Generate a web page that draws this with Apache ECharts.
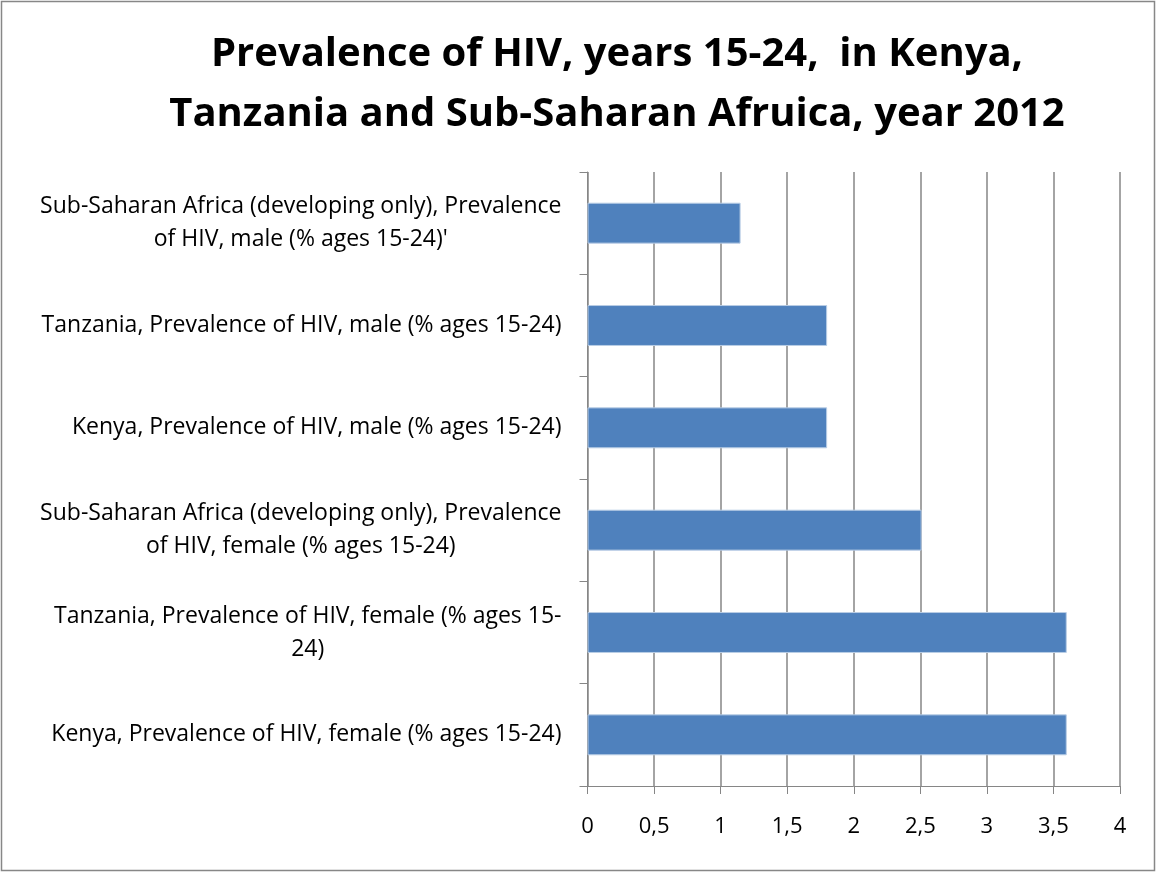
<!DOCTYPE html>
<html><head><meta charset="utf-8">
<script src="https://cdn.jsdelivr.net/npm/echarts@6/dist/echarts.min.js"></script>
<style>html,body{margin:0;padding:0;background:#fff}#c{width:1157px;height:873px}</style>
</head><body><div id="c"></div>
<script>
const categories = [
  "Kenya, Prevalence of HIV, female (% ages 15-24)",
  "Tanzania, Prevalence of HIV, female (% ages 15-\n24)",
  "Sub-Saharan Africa (developing only), Prevalence\nof HIV, female (% ages 15-24)",
  "Kenya, Prevalence of HIV, male (% ages 15-24)",
  "Tanzania, Prevalence of HIV, male (% ages 15-24)",
  "Sub-Saharan Africa (developing only), Prevalence\nof HIV, male (% ages 15-24)'"
];
const values = [3.6, 3.6, 2.51, 1.8, 1.8, 1.15];
const titleText = "Prevalence of HIV, years 15-24,  in Kenya,\nTanzania and Sub-Saharan Afruica, year 2012";

const chart = echarts.init(document.getElementById('c'), null, {renderer: 'canvas'});
const FONT = '"Open Sans", sans-serif';
chart.setOption({
  animation: false,
  backgroundColor: '#fff',
  title: {
    text: titleText,
    left: 612, top: 20, textAlign: 'center',
    textStyle: {fontFamily: FONT, fontWeight: 'bold', fontSize: 40, lineHeight: 60, color: '#000'}
  },
  grid: {left: 587.5, right: 37, top: 172, bottom: 87, containLabel: false},
  xAxis: {
    type: 'value', min: 0, max: 4, interval: 0.5,
    axisLine: {show: true, lineStyle: {color: '#868686', width: 1}},
    axisTick: {show: true, length: 8, lineStyle: {color: '#868686'}},
    splitLine: {show: true, lineStyle: {color: '#868686', width: 1.5}},
    axisLabel: {
      margin: 30, color: '#000', fontFamily: FONT, fontSize: 22,
      formatter: v => String(v).replace('.', ',')
    }
  },
  yAxis: {
    type: 'category', data: categories,
    axisLine: {show: true, lineStyle: {color: '#868686', width: 1}},
    axisTick: {show: true, length: 8, lineStyle: {color: '#868686'}},
    axisLabel: {
      margin: 26, align: 'right', color: '#000', fontFamily: FONT, fontSize: 23,
      formatter: v => v.split('\n').map(s => '{c|' + s + '}').join('\n'),
      rich: {c: {align: 'center', fontFamily: FONT, fontSize: 23, lineHeight: 33, color: '#000'}}
    }
  },
  series: [{
    type: 'bar', data: values, barWidth: '40%',
    itemStyle: {color: '#4F81BD', borderColor: '#B9CDE5', borderWidth: 1}
  }],
  graphic: [{
    type: 'rect', silent: true, z: 100,
    shape: {x: 1.5, y: 1.5, width: 1153, height: 869},
    style: {fill: 'none', stroke: '#878787', lineWidth: 1.5}
  }]
});
</script></body></html>
